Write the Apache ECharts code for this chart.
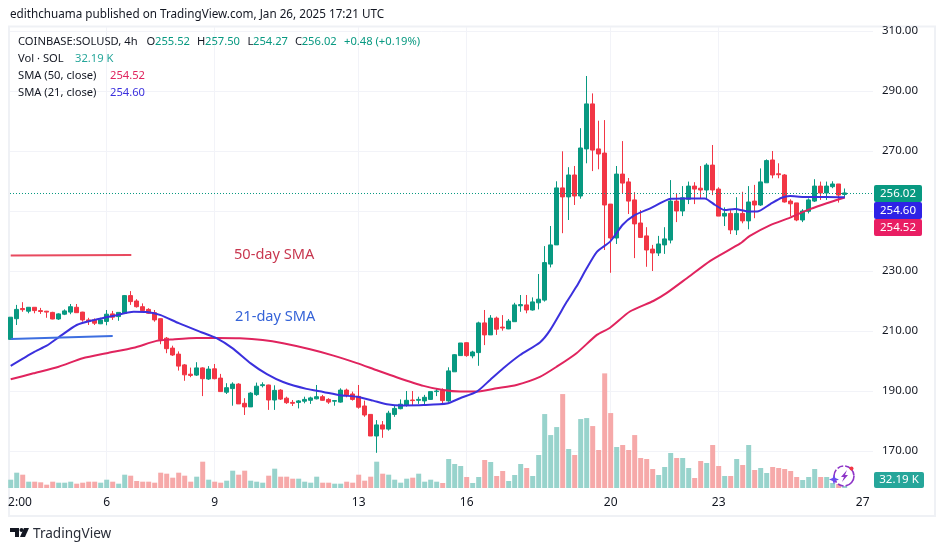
<!DOCTYPE html>
<html><head><meta charset="utf-8">
<style>html,body{margin:0;padding:0;background:#fff}#c{width:945px;height:551px}</style>
<script src="https://cdn.jsdelivr.net/npm/echarts@6/dist/echarts.min.js"></script>
</head><body><div id="c"></div>
<script>
const opens=[207.2,214.1,217.5,216.6,217.9,216.8,216.6,216.2,214,215.6,216.3,217.9,216.3,213.7,213.7,212.4,213.2,215.7,214.8,215.9,
221.8,220,218.1,217.2,216.1,214.1,207.6,204.3,202.3,198.7,
195.6,195.3,197.7,194,197.4,194.3,189.6,190.8,192.3,185.9,
184.7,188.8,191.8,192,187,190.3,187.6,186.2,186.2,186.6,
186.9,187.4,188.1,187.2,186.6,186.3,190.3,189,188.2,185,
182.2,175,178.7,177.3,182.2,184.1,185.3,187,186.9,186.7,
187.2,189.8,190.2,186.7,196.4,201.8,206.1,201.7,202.8,212.7,
208.7,214.3,211.3,210.7,213.1,218.4,218.7,217,219.4,220.3,
232.3,238.7,257.7,254.7,262,255,270.7,285.7,270.7,269.3,
252.3,241,262.3,259.7,253.7,246,241.7,237.3,236,238.7,
240.3,253.3,250,253.9,258.3,257.6,257,265.3,257.3,248.3,
249.2,243.7,249.2,246.7,253.3,252,259.4,267,262.4,262,
253.3,252.7,247,249.9,253.3,258.3,256,258.1,259,255.52];
const closes=[214.6,217.2,217.1,217.9,216.8,216.5,216.3,214,215.7,216.7,218.1,216.1,213.7,213.2,212.6,213.7,215.6,214.6,216.2,221.8,
219.8,218.1,216.8,215.9,213.7,207.2,204.1,202,198.3,195.4,
195.2,197.7,194.1,197.3,194.1,189.8,191.1,192.3,185.7,184.7,
189.3,191.6,192.1,187,190.2,187.3,186.1,185.9,186.7,187.2,
187.7,188.1,186.9,186.3,186.8,190.3,188.6,187.2,184.6,182,
175,178.7,177.3,182.6,184.2,185.6,186.9,186.8,187.2,187.9,
189.8,190,186.8,196.7,202.1,206,201.8,203,212.7,208.7,
214.3,210.6,211,213.3,218.7,218.8,217,219.7,220.6,232.8,
238.7,257.7,254.7,262,255,271,285.7,270.3,269,252,
241,262.3,259.3,253.3,245.7,241.2,237,236,239,240.7,
253.3,250,254.4,258.3,257.3,257,265.3,257,248.3,249.2,
243.7,249.2,246.7,253,252,259.7,266.8,262,262.1,253,
252.4,247,250,253.7,258.3,256,258.3,259,255.3,256.02];
const lows=[207.2,212,216.4,215.9,215.9,215.7,214.4,213.9,213.7,215.3,215.6,216,213.1,212,212,212.3,211.9,213.7,213.4,215.9,
218.7,217.8,216.4,215.7,213.1,205.6,202.6,201.7,196.8,193.4,
194.6,195,188.3,193.7,193.9,189.7,189,185.1,185.7,182,
184.7,188.4,191.2,183.7,183.7,187,185.7,185,184.2,185.9,
185.7,187.2,186.8,185.7,185.1,186.1,187.9,186.8,184.1,181.4,
175,169.4,174.4,176.8,181.4,183.9,184.8,185.3,185.7,185,
187,188.3,185.7,186.4,196.4,201.8,201.4,200.9,198.4,205.3,
208.7,208.7,210.1,210.6,213.1,216.4,215.9,216.8,217.2,219.8,
231.2,238.7,242.6,247,252,254.1,265.9,263.3,263.9,237,
229.4,239,255.7,249,234.3,241,231.4,230,235,235.7,
239.2,246.3,248.3,252.3,252.3,254.2,253.9,255.3,248.3,245,
242.3,242,245.9,243.9,247.6,251.7,259.4,260.9,260.9,252.8,
248.3,246.6,246.3,249.2,253,253.7,253.7,257.6,252.8,254.27];
const highs=[214.6,218.7,219.6,218,217.9,217.7,216.7,216.4,215.9,217.2,219,219,216.4,214.4,214.2,214.4,217,216.7,216.2,222,
223.3,220.6,219.2,217.6,217,214.2,208,205.1,203.2,199,
197.8,199.6,197.9,198.3,199,195.7,192.6,192.9,192.6,187.6,
189.6,192.8,192.9,192.1,191.9,190.6,188.1,187,187,188.1,
188.1,192,188.7,187.6,187,190.9,190.8,189.8,192,186.8,
182.2,180.3,180,183.4,185,187.2,190,190,188.1,188.7,
189.8,190.9,190.9,197.9,202.3,206,206.2,203.4,213.1,217,
215.3,214.8,215.3,214,219.4,222,222,221.2,229,238.3,
245,259.9,269.9,264.6,265,277.6,295,289.2,280.1,280.3,
252.3,265,273.3,261,256.3,250.3,244.6,238.7,241.7,244.6,
260.3,255.9,258.3,259.8,259.6,265,265.9,272,257.9,251.2,
250.3,254.6,256.4,258.3,258.7,264.2,267.2,270,265.9,262.3,
253.9,252.7,250.6,254.2,260.6,259.8,259.8,259.9,259,257.5];
const volumes=[133,245,213,101,101,91,53,101,85,85,101,69,85,101,101,85,133,101,69,213,
197,112,101,101,85,245,229,165,245,197,
101,181,421,133,101,85,117,277,213,277,
117,101,85,197,309,181,181,149,149,101,
85,181,85,85,69,69,101,85,213,117,
181,421,229,213,133,85,149,165,229,101,
133,101,80,464,384,352,176,80,176,448,
416,192,272,112,208,384,320,192,528,1183,
847,975,1503,624,528,1103,1119,991,608,1834,
1199,656,688,608,847,480,464,304,208,336,
560,480,480,320,160,432,400,688,352,192,
192,464,368,688,288,320,240,336,320,304,
272,176,128,176,304,176,176,80,64,32.19];
const sma21X=[0,3.8,6,8,11,14,17,20.5,22.7,25,28,31.5,34.3,37,40,42.7,45.4,49.3,52.1,54.9,57.7,60.4,62.7,65.4,68.8,72.7,74.9,77.7,79.9,82.1,84.9,88.2,89.9,92.7,94.3,96,97.7,99.9,102,103.8,106.6,110,112.7,115.7,117.4,119,120.7,123,124.4,126.6,128.5,129.9,132.1,136,139];
const sma21Y=[198.4,202.9,205.1,207.9,212,213.7,215,216.4,216.3,215.3,212.6,209.8,207.6,204.2,199.2,195.6,193,190.7,189.7,188.6,188.1,186.8,185.6,185.2,185.3,185.8,187.6,189.8,193.7,197.6,202,206.2,210.3,219.8,224.8,230.9,236.4,239.8,245.4,248.4,250.9,254.1,254.2,254.2,252,250.3,250.7,249.8,249.8,252.3,254.4,255,254.7,254.7,254.6];
const sma50X=[0,3.8,8,12,16,20.5,24.3,27,31,34.3,38.2,42,45.4,49.9,53.8,57.7,60.9,64.3,68.8,72.1,74.9,77.7,81,84.3,88.2,91,94.3,97.7,99.9,103.2,107.1,109.3,112.7,116.6,121.6,123.2,126.6,129.9,133.2,136,139];
const sma50Y=[193.9,195.9,198.1,200.9,202.6,204.4,206.7,207.2,207.7,207.7,207.6,207,205.9,203.9,201.8,199.3,197,194.6,191.7,190.3,189.8,189.8,190.9,192,194.7,198.1,202.6,208.7,211.1,216.5,220,222.6,227.6,233.4,239.2,241.7,245.3,247.8,250.6,252.6,254.5];
const xTickIdx=[1,16,34,58,76,100,118,142];
const xLabelIdx=[1.55,16,34,58,76,100,118,142];
const xLabels=['2:00','6','9','13','16','20','23','27'];
const note50=[[0,235.17],[20.1,235.33]];
const note21=[[0,207.33],[17,208.33]];
const last={close:'256.02',s21:'254.60',s50:'254.52',vol:'32.19 K'};

const FONT='"Noto Sans", sans-serif', DARK='#131722', UP='#089981', DOWN='#f23645';
const BLUE='#3b30dd', PINK='#e0245e', GRIDC='#f2f3f8', LEG='11.2px '+FONT;
const idx=opens.map((_,i)=>i);
const chart=echarts.init(document.getElementById('c'),null,{renderer:'canvas'});
const pt=(xs,ys)=>xs.map((x,i)=>[x,ys[i]]);
const txt=(x,y,text,o={})=>({type:'text',x,y,silent:true,z:50,style:Object.assign({text,font:LEG,fill:DARK,verticalAlign:'middle'},o)});
const badge=(x,y,w,h,fill,label)=>[
 {type:'rect',z:40,silent:true,shape:{x,y,width:w,height:h,r:2},style:{fill}},
 {type:'text',z:41,silent:true,x:x+w/2,y:y+h/2,style:{text:label,fill:'#fff',font:'11.5px '+FONT,align:'center',verticalAlign:'middle'}}];
chart.setOption({
 animation:false,
 grid:[{left:10,top:27,width:863,height:484,show:false},{left:10,top:27,width:863,height:461,show:false}],
 xAxis:[
  {gridIndex:0,type:'value',min:-0.117,max:143.72,show:false},
  {gridIndex:1,type:'value',min:-0.117,max:143.72,axisLine:{show:false},
   axisTick:{show:false,customValues:xTickIdx},
   splitLine:{show:true,showMinLine:false,showMaxLine:false,lineStyle:{color:GRIDC,width:1}},
   axisLabel:{customValues:xLabelIdx,margin:9,color:DARK,fontSize:12,fontFamily:FONT,showMinLabel:true,showMaxLabel:true,hideOverlap:false,
     formatter:v=>{const k=xLabelIdx.indexOf(v);return k>=0?xLabels[k]:'';}}}
 ],
 yAxis:[
  {gridIndex:0,type:'value',position:'right',min:150,max:311.33,interval:20,axisLine:{show:false},axisTick:{show:false},
   splitLine:{show:true,showMinLine:false,showMaxLine:false,lineStyle:{color:GRIDC,width:1}},
   axisLabel:{margin:9,color:DARK,fontSize:11.5,fontFamily:FONT,padding:[3,0,0,0],showMinLabel:false,showMaxLabel:false,formatter:v=>v.toFixed(2)}},
  {gridIndex:1,type:'value',min:0,max:7376,show:false}
 ],
 series:[
  {type:'bar',xAxisIndex:1,yAxisIndex:1,barWidth:5,z:1,silent:true,
   data:idx.map(i=>({value:[i,volumes[i]],itemStyle:{color:closes[i]>=opens[i]?'#98d3cc':'#f6a9a9'}}))},
  {type:'candlestick',xAxisIndex:0,yAxisIndex:0,barWidth:5,z:3,silent:true,
   itemStyle:{color:UP,color0:DOWN,borderColor:UP,borderColor0:DOWN,borderWidth:1},
   encode:{x:0,y:[1,2,3,4]},
   data:idx.map(i=>[i,opens[i],closes[i],lows[i],highs[i]]),
   markLine:{silent:true,symbol:'none',label:{show:false},animation:false,lineStyle:{color:UP,type:[1,2],width:1},data:[{yAxis:+last.close}]}},
  {type:'line',xAxisIndex:0,yAxisIndex:0,smooth:0.2,showSymbol:false,z:5,silent:true,lineStyle:{color:PINK,width:2},data:pt(sma50X,sma50Y)},
  {type:'line',xAxisIndex:0,yAxisIndex:0,smooth:0.2,showSymbol:false,z:6,silent:true,lineStyle:{color:BLUE,width:2},data:pt(sma21X,sma21Y)},
  {type:'line',xAxisIndex:0,yAxisIndex:0,showSymbol:false,z:7,silent:true,lineStyle:{color:'#e84a5f',width:2},data:note50},
  {type:'line',xAxisIndex:0,yAxisIndex:0,showSymbol:false,z:7,silent:true,lineStyle:{color:'#3d6ee0',width:2},data:note21}
 ],
 graphic:[
  {type:'rect',z:0,silent:true,shape:{x:9,y:26.5,width:926,height:489.5},style:{fill:'none',stroke:'#eff1f5',lineWidth:2}},
  txt(10,15,'edithchuama published on TradingView.com, Jan 26, 2025 17:21 UTC',{font:'11.7px '+FONT}),
  txt(18,42,'COINBASE:SOLUSD, 4h'),
  txt(146.5,42,'O'),txt(155,42,'255.52',{fill:UP}),
  txt(197,42,'H'),txt(205,42,'257.50',{fill:UP}),
  txt(247.5,42,'L'),txt(253,42,'254.27',{fill:UP}),
  txt(295,42,'C'),txt(301.7,42,'256.02',{fill:UP}),
  txt(344,42,'+0.48 (+0.19%)',{fill:UP}),
  txt(18,59,'Vol · SOL'),txt(75,59,last.vol,{fill:'#26a69a'}),
  txt(18,76,'SMA (50, close)'),txt(110,76,last.s50,{fill:PINK}),
  txt(18,93,'SMA (21, close)'),txt(110,93,last.s21,{fill:BLUE}),
  txt(234,255,'50-day SMA',{font:'14.6px '+FONT,fill:'#c8374f'}),
  txt(235,317,'21-day SMA',{font:'14.6px '+FONT,fill:'#3563d8'}),
  ...badge(874,185,48,17,'#089981',last.close),
  ...badge(874,202,48,17,'#2e22e6',last.s21),
  ...badge(874,219,48,17,'#e91e63',last.s50),
  ...badge(874,472,50,16,'#26a69a',last.vol),
  {type:'circle',z:30,silent:true,shape:{cx:844,cy:476,r:10},style:{fill:'rgba(255,255,255,0.85)',stroke:'#8e35c8',lineWidth:1.6,lineDash:[14,2,6,2]}},
  {type:'polygon',z:31,silent:true,shape:{points:[[847,470],[841,477],[844,477],[842,482],[848,475],[845,475]]},style:{fill:'#8e35c8'}},
  {type:'polygon',z:31,silent:true,shape:{points:[[834,474.5],[835.3,478],[839,479.5],[835.3,481],[834,484.5],[832.7,481],[829,479.5],[832.7,478]]},style:{fill:'#6a4cf0'}},
  {type:'circle',z:31,silent:true,shape:{cx:851.5,cy:468.5,r:2},style:{fill:'#f23645'}},
  {type:'polygon',z:30,silent:true,shape:{points:[[10,528],[19,528],[19,537],[15,537],[15,532],[10,532]]},style:{fill:DARK}},
  {type:'circle',z:30,silent:true,shape:{cx:21.5,cy:530,r:2},style:{fill:DARK}},
  {type:'polygon',z:30,silent:true,shape:{points:[[24,528],[29,528],[25,537],[20,537]]},style:{fill:DARK}},
  txt(33,534,'TradingView',{font:'13.6px '+FONT,fill:'#2a2e39'})
 ]
});
</script></body></html>
